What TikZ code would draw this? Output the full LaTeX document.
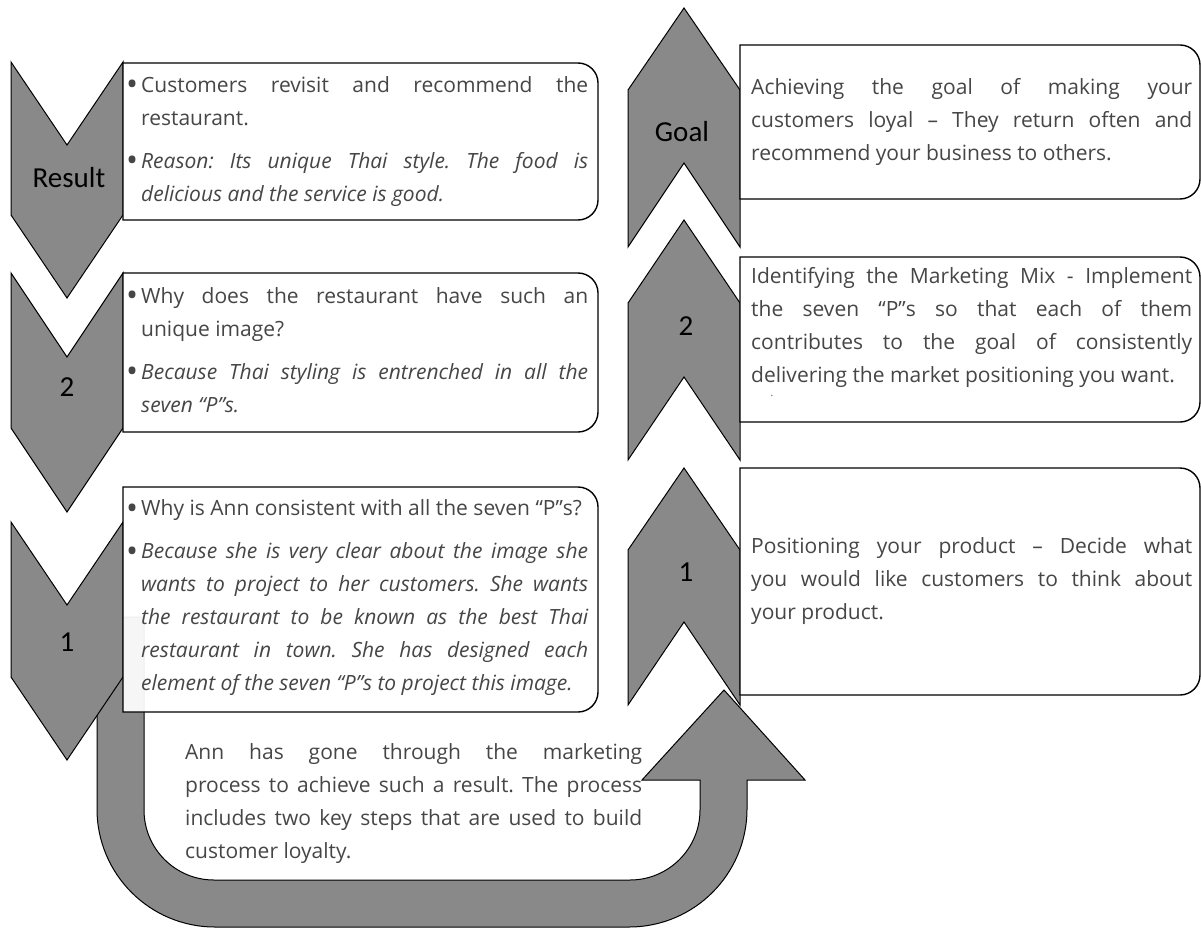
\documentclass[tikz,border=0pt]{standalone}
\usepackage{fontspec}
\setmainfont{Open Sans}
\newfontfamily\labelfont{Carlito}
\definecolor{chev}{RGB}{137,137,137}
\definecolor{txt}{RGB}{70,70,70}
\frenchspacing
\tikzset{
  chevron/.style={fill=chev, draw=black, line width=1pt, line join=miter},
  panel/.style={fill=white, draw=black, line width=1.4pt},
  lbl/.style={font=\labelfont\fontsize{29}{29}\selectfont, text=black, inner sep=0pt},
  bodytext/.style={font=\fontsize{21}{33}\selectfont, text=txt, inner sep=0pt, align=justify},
}
\newcommand\panelshape[5][panel]{%
  \path[#1] (#2,#3) -- ({#4-20},#3) arc[start angle=-90,end angle=0,radius=20]
    -- (#4,{#5-20}) arc[start angle=0,end angle=90,radius=20] -- (#2,#5) -- cycle;}
\newcommand\chevdown[4]{%
  \path[chevron] (11,#1) -- (67,#2) -- (123,#1) -- (123,#3) -- (67,#4) -- (11,#3) -- cycle;}
\newcommand\chevup[4]{%
  \path[chevron] (684,#1) -- (740,#2) -- (740,#4) -- (684,#3) -- (628,#4) -- (628,#2) -- cycle;}
\newcommand\bitem[1]{\noindent\hangindent=12pt\hangafter=1\makebox[12pt][l]{\hspace*{-3pt}\smash{\raisebox{-3.5pt}{\fontsize{32}{32}\selectfont\textbullet}}}#1\par}
\begin{document}
\begin{tikzpicture}[x=1pt,y=-1pt]
\useasboundingbox (0,0) rectangle (1201,928);
% U-turn arrow (behind everything)
\path[chevron] (97,617) -- (97,809) arc[start angle=180,end angle=90,radius=118]
  -- (629,927) arc[start angle=90,end angle=0,radius=118]
  -- (747,780) -- (805,780) -- (724,690) -- (642,780) -- (700,780)
  -- (700,810) arc[start angle=0,end angle=90,radius=70]
  -- (214,880) arc[start angle=90,end angle=180,radius=70]
  -- (144,617) -- cycle;
% left chevrons
\chevdown{62}{145}{215}{298}
\chevdown{273}{357}{428}{512}
\chevdown{522}{605}{677}{760}
% left panels
\panelshape{123}{63}{598}{220}
\panelshape{123}{273}{598}{432}
\panelshape[panel,fill opacity=0.93]{123}{487}{598}{712}
% right chevrons
\chevup{8}{90}{163}{247}
\chevup{220}{303}{377}{460}
\chevup{468}{550}{622}{705}
% right panels
\panelshape{740}{45}{1200}{199}
\panelshape{740}{257}{1200}{422}
\panelshape{740}{468}{1200}{695}
% labels
\node[lbl] (lres) at (69,178) {Result};
\node[lbl] (l2) at (67,387) {2};
\node[lbl] (l1) at (67,642) {1};
\node[lbl] (rgoal) at (682,132) {Goal};
\node[lbl] (r2) at (686,326) {2};
\node[lbl] (r1) at (686,572) {1};
% left texts
\node[bodytext, text width=459pt, anchor=west] (t1) at (129,141.5) {\parskip=10pt
\bitem{Customers revisit and recommend the \linebreak restaurant.}
\bitem{{\itshape Reason: Its unique Thai style. The food is \linebreak delicious and the service is good.}}};
\node[bodytext, text width=459pt, anchor=west] (t2) at (129,350) {\parskip=10pt
\bitem{Why does the restaurant have such an \linebreak unique image?}
\bitem{{\itshape Because Thai styling is entrenched in all the \linebreak seven “P”s.}}};
\node[bodytext, text width=459pt, anchor=west] (t3) at (129,598) {\parskip=10pt
\bitem{Why is Ann consistent with all the seven “P”s?}
\bitem{{\itshape Because she is very clear about the image she \linebreak wants to project to her customers. She wants \linebreak the restaurant to be known as the best Thai \linebreak restaurant in town. She has designed each \linebreak element of the seven “P”s to project this image.}}};
% right texts
\node[bodytext, text width=441pt, anchor=west] (g) at (751,122) {\noindent Achieving the goal of making your \linebreak customers loyal – They return often and \linebreak recommend your business to others.};
\node[bodytext, text width=441pt, anchor=west] (m) at (751,327) {\noindent Identifying the Marketing Mix - Implement \linebreak the seven “P”s so that each of them \linebreak contributes to the goal of consistently \linebreak delivering the market positioning you want.};
\node[font=\fontsize{10}{10}\selectfont, text=txt, inner sep=0pt] (dot) at (772,396) {.};
\node[bodytext, text width=441pt, anchor=west] (p) at (751,581) {\noindent Positioning your product – Decide what \linebreak you would like customers to think about \linebreak your product.};
% bottom text
\node[bodytext, text width=457pt, anchor=west] (ann) at (185,804) {\noindent Ann has gone through the marketing \linebreak process to achieve such a result. The process \linebreak includes two key steps that are used to build \linebreak customer loyalty.};
\end{tikzpicture}
\end{document}
